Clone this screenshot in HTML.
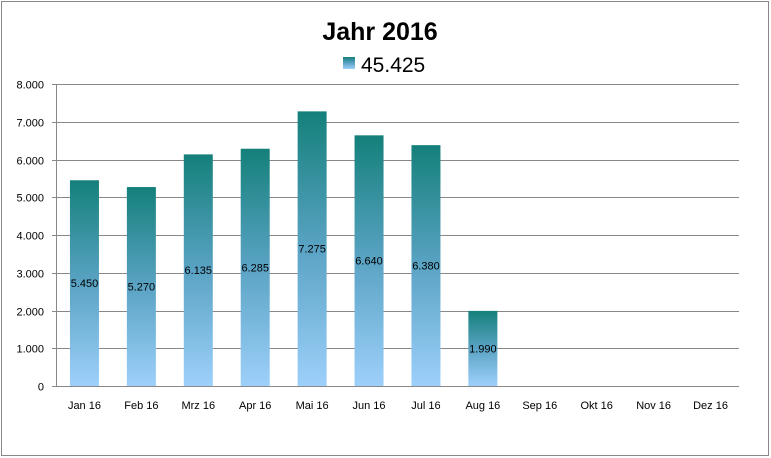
<!DOCTYPE html>
<html><head><meta charset="utf-8"><style>
html,body{margin:0;padding:0;background:#fff;}
svg{display:block;font-family:"Liberation Sans","DejaVu Sans",sans-serif;}
</style></head><body>
<svg id="chart" width="771" height="458">
<defs>
<linearGradient id="bg" x1="0" y1="0" x2="0" y2="1">
<stop offset="0" stop-color="#14807a"/>
<stop offset="0.5" stop-color="#5aa3c4"/>
<stop offset="1" stop-color="#9dd0fb"/>
</linearGradient>
</defs>
<rect x="1.5" y="1.5" width="767" height="454" fill="#fff" stroke="#888"/>
<text x="380" y="40" text-anchor="middle" font-size="25" font-weight="bold" fill="#000">Jahr 2016</text>
<g>
<rect x="343" y="57" width="12" height="12" fill="url(#bg)"/>
<text x="361" y="72" font-size="21" fill="#000">45.425</text>
</g>
<g id="grid"></g>
<g id="bars"></g>
<g id="labels"></g>
</svg>
<script>
const categories=["Jan 16","Feb 16","Mrz 16","Apr 16","Mai 16","Jun 16","Jul 16","Aug 16","Sep 16","Okt 16","Nov 16","Dez 16"];
const values=[5450,5270,6135,6285,7275,6640,6380,1990,null,null,null,null];
const valueLabels=["5.450","5.270","6.135","6.285","7.275","6.640","6.380","1.990"];
const yTicks=[0,1000,2000,3000,4000,5000,6000,7000,8000];
const yTickLabels=["0","1.000","2.000","3.000","4.000","5.000","6.000","7.000","8.000"];
const NS="http://www.w3.org/2000/svg";
const x0=56,x1=739,y0=386,y1=84,yMax=8000;
const bw=(x1-x0)/categories.length;
function yS(v){return y0-(v/yMax)*(y0-y1);}
function xC(i){return x0+bw*(i+0.5);}
function mk(t,a,p){const e=document.createElementNS(NS,t);for(const k in a)e.setAttribute(k,a[k]);p.appendChild(e);return e;}
const grid=document.getElementById('grid'),bars=document.getElementById('bars'),labels=document.getElementById('labels');
yTicks.forEach((v,i)=>{
 const y=Math.round(yS(v))+0.5;
 const l=mk('line',{x1:52,x2:x1,y1:y,y2:y,stroke:'#888','stroke-width':1},grid);
 
 
 const t=mk('text',{x:44,y:y+4,'text-anchor':'end','font-size':11,fill:'#000'},grid);
 t.textContent=yTickLabels[i];
 
 
});
const ax=mk('line',{x1:x0+0.5,x2:x0+0.5,y1:y1,y2:y0,stroke:'#888'},grid);


categories.forEach((c,i)=>{
 const t=mk('text',{x:xC(i),y:409,'text-anchor':'middle','font-size':11,fill:'#000'},labels);
 t.textContent=c;
 
 
 const v=values[i];
 if(v==null)return;
 const top=yS(v);
 const r=mk('rect',{x:xC(i)-14.5,y:top,width:29,height:y0-top,fill:'url(#bg)'},bars);
 
 
 const vl=mk('text',{x:xC(i),y:(top+y0)/2+4,'text-anchor':'middle','font-size':11,fill:'#000'},labels);
 vl.textContent=valueLabels[i];
 
 
});
</script>
</body></html>
